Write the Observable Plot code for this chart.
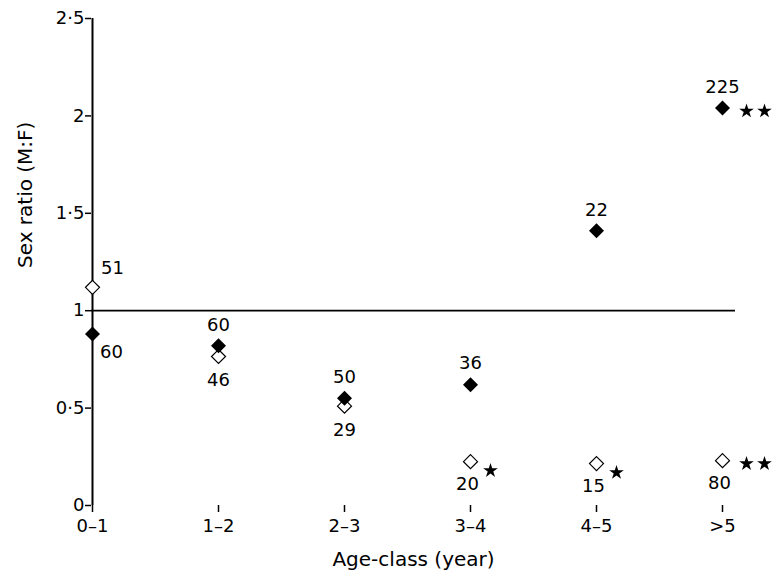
<!DOCTYPE html>
<html>
<head>
<meta charset="utf-8">
<script src="https://cdn.jsdelivr.net/npm/d3@7"></script>
<script src="https://cdn.jsdelivr.net/npm/@observablehq/plot@0.6"></script>
<style>
  html, body { margin: 0; padding: 0; background: #fff; }
  #chart svg { font-family: "DejaVu Sans", "Liberation Sans", Arial, sans-serif; }
</style>
</head>
<body>
<div id="chart"></div>
<script>
// ---- Data ----
const ages = ["0–1", "1–2", "2–3", "3–4", "4–5", ">5"];
const filledRatio = [0.88, 0.82, 0.55, 0.62, 1.41, 2.04];
const openRatio = [1.12, 0.765, 0.51, 0.225, 0.215, 0.23];
const filledN = [60, 60, 50, 36, 22, 225];
const openN = [51, 46, 29, 20, 15, 80];
const filledStars = [0, 0, 0, 0, 0, 2];
const openStars = [0, 0, 0, 1, 1, 2];
const yTicks = [0, 0.5, 1, 1.5, 2, 2.5];

// ---- Build tables ----
const filled = ages.map((a, i) => ({age: a, ratio: filledRatio[i], n: filledN[i], i, stars: filledStars[i]}));
const open = ages.map((a, i) => ({age: a, ratio: openRatio[i], n: openN[i], i, stars: openStars[i]}));
const starRows = [];
for (const d of [...filled, ...open]) for (let k = 0; k < d.stars; k++) starRows.push({age: d.age, ratio: d.ratio, k, single: d.stars === 1});

const diamond = {
  draw(ctx, size) {
    const r = Math.sqrt(size / Math.PI);
    ctx.moveTo(0, -r); ctx.lineTo(r, 0); ctx.lineTo(0, r); ctx.lineTo(-r, 0); ctx.closePath();
  }
};

const fam = "'DejaVu Sans', 'Liberation Sans', Arial, sans-serif";
const numFont = 18, tickFont = 18, titleFont = 20;
const chart = Plot.plot({
  width: 783,
  height: 581,
  marginLeft: 91,
  marginRight: 48,
  marginTop: 18,
  marginBottom: 76,
  style: {fontFamily: fam, fontSize: tickFont + "px", color: "#000", background: "#fff"},
  x: {type: "point", domain: ages, range: [91, 723], padding: 0, label: null},
  y: {domain: [0, 2.5], label: null},
  marks: [
    // axes lines
    Plot.ruleX([ages[0]], {y1: 0, y2: 2.5, stroke: "#000", strokeWidth: 2}),
    Plot.ruleY([0], {x1: ages[0], x2: ages[ages.length - 1], stroke: "#000", strokeWidth: 2}),
    Plot.ruleY([1], {stroke: "#000", strokeWidth: 1.7}),
    // tick lines (labels drawn as text marks below)
    Plot.axisY(yTicks, {tickSize: 6, tickPadding: 2, tickFormat: () => "", stroke: "#000", strokeWidth: 1.5, label: null}),
    Plot.axisX(ages, {tickSize: 7, tickPadding: 4, tickFormat: () => "", stroke: "#000", strokeWidth: 1.5, label: null}),
    Plot.text(yTicks, {x: () => ages[0], y: d => d, text: d => String(d).replace(".", "·"), textAnchor: "end", dx: -8, fontSize: tickFont, fill: "#000"}),
    Plot.text(ages, {x: d => d, y: () => 0, text: d => d, dy: 21, fontSize: tickFont, fill: "#000"}),
    // points
    Plot.dot(open, {x: "age", y: "ratio", symbol: diamond, r: 7, fill: "#fff", stroke: "#000", strokeWidth: 1.2}),
    Plot.dot(filled, {x: "age", y: "ratio", symbol: diamond, r: 7.5, fill: "#000", stroke: "none"}),
    // stars
    Plot.dot(starRows.filter(d => d.single), {x: "age", y: "ratio", symbol: d3.symbolStar, r: 4.6, fill: "#000", dx: 20, dy: 9}),
    Plot.dot(starRows.filter(d => !d.single && d.k === 0), {x: "age", y: "ratio", symbol: d3.symbolStar, r: 4.6, fill: "#000", dx: 24, dy: 3}),
    Plot.dot(starRows.filter(d => !d.single && d.k === 1), {x: "age", y: "ratio", symbol: d3.symbolStar, r: 4.6, fill: "#000", dx: 42, dy: 3}),
    // sample size labels
    Plot.text(filled.filter(d => d.i === 0), {x: "age", y: "ratio", text: "n", dx: 19, dy: 18, fontSize: numFont, fill: "#000"}),
    Plot.text(filled.filter(d => d.i > 0), {x: "age", y: "ratio", text: "n", dy: -21, fontSize: numFont, fill: "#000"}),
    Plot.text(open.filter(d => d.i === 0), {x: "age", y: "ratio", text: "n", dx: 20, dy: -19, fontSize: numFont, fill: "#000"}),
    Plot.text(open.filter(d => d.i > 0 && d.stars === 0), {x: "age", y: "ratio", text: "n", dy: 24, fontSize: numFont, fill: "#000"}),
    Plot.text(open.filter(d => d.i > 0 && d.stars > 0), {x: "age", y: "ratio", text: "n", dx: -3, dy: 23, fontSize: numFont, fill: "#000"}),
    // axis titles
    Plot.text(["Sex ratio (M:F)"], {frameAnchor: "left", dx: -66, dy: 6, rotate: -90, fontSize: titleFont, fill: "#000"}),
    Plot.text(["Age-class (year)"], {frameAnchor: "bottom", dx: 0, dy: 60, fontSize: titleFont, fill: "#000"})
  ]
});
document.getElementById("chart").appendChild(chart);
</script>
</body>
</html>
